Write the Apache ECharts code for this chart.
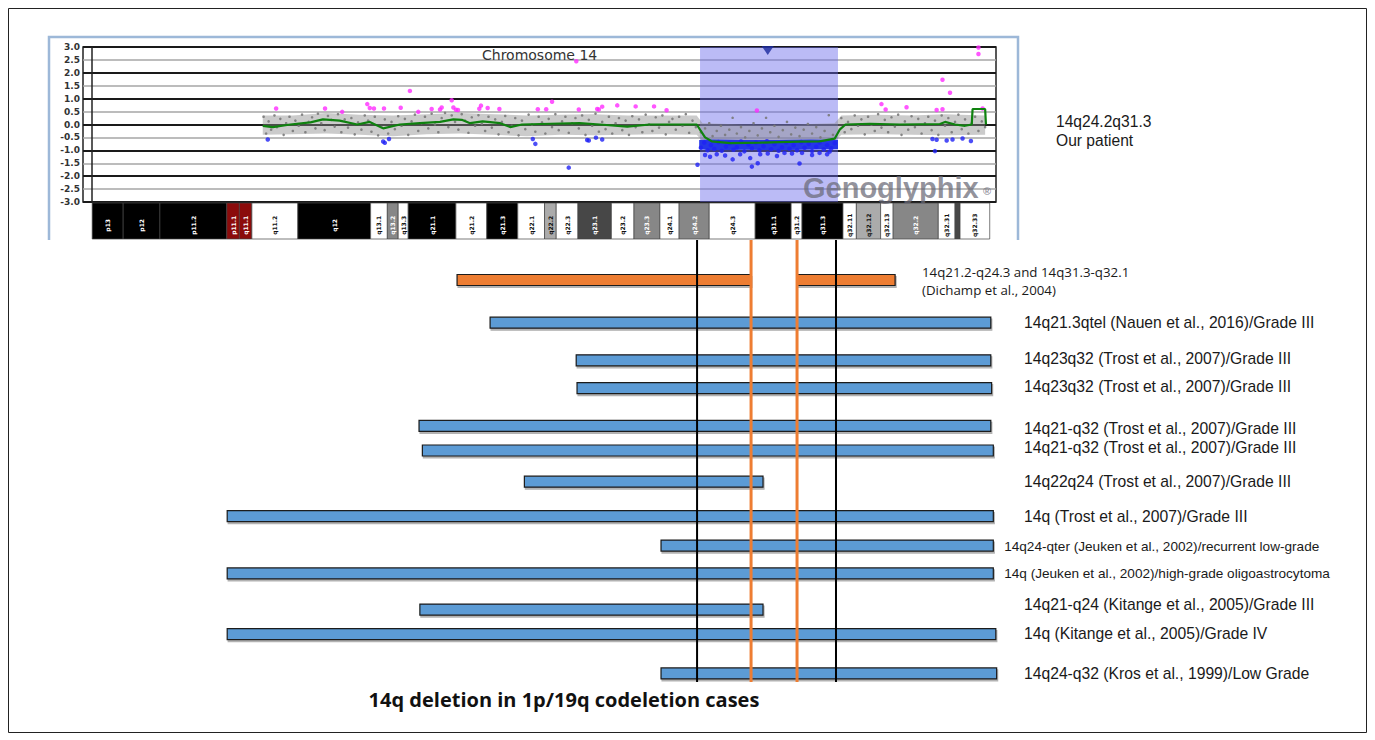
<!DOCTYPE html>
<html><head><meta charset="utf-8">
<script src="https://cdn.jsdelivr.net/npm/echarts@6/dist/echarts.min.js"></script>
<style>html,body{margin:0;padding:0;background:#fff}#c{width:1375px;height:740px}</style>
</head><body><div id="c"></div>
<script>
// ---------- Chromosome 14 ideogram (Mb) ----------
const BAND_NAMES = ['p13','p12','p11.2','p11.1','q11.1','q11.2','q12','q13.1','q13.2','q13.3','q21.1','q21.2','q21.3','q22.1','q22.2','q22.3','q23.1','q23.2','q23.3','q24.1','q24.2','q24.3','q31.1','q31.2','q31.3','q32.11','q32.12','q32.13','q32.2','q32.31','','q32.33'];
const BAND_START = [0,3.7,8.1,16.1,17.6,19.1,24.6,33.3,35.3,36.6,37.8,43.5,47.2,50.9,54.1,55.5,58.1,62.1,64.8,67.9,70.2,73.8,79.3,83.6,84.9,89.8,91.4,94.3,95.8,101.2,103.2,103.8];
const BAND_END   = [3.7,8.1,16.1,17.6,19.1,24.6,33.3,35.3,36.6,37.8,43.5,47.2,50.9,54.1,55.5,58.1,62.1,64.8,67.9,70.2,73.8,79.3,83.6,84.9,89.8,91.4,94.3,95.8,101.2,103.2,103.8,107.35];
const BAND_STAIN = ['k','k','k','r','r','w','k','w','g50','w','k','w','k','w','g25','w','g75','w','g50','w','g50','w','k','w','k','w','g25','w','g50','w','g75','w'];

// ---------- Array CGH profile (position Mb, log2 ratio) ----------
const GREEN_X = [20.4,21.6,23.7,26.1,27.6,29.6,31.7,33.2,34.8,36.8,39.2,41.6,43.2,44.2,45.2,46.7,48.8,50.0,51.4,54.8,58.3,60.7,64.0,66.7,72.3,73.3,74.1,76.3,79.9,82.2,84.6,87.0,88.8,89.4,90.1,93.0,96.6,101.4,102.0,103.2,104.4,105.2,105.3,106.8,106.9];
const GREEN_Y = [-0.05,-0.1,0.0,0.08,0.2,0.15,0.0,0.1,-0.15,0.0,0.05,0.1,0.2,0.18,0.05,0.12,0.05,-0.1,0.0,0.03,0.05,0.0,-0.08,0.0,0.0,-0.5,-0.65,-0.72,-0.7,-0.68,-0.66,-0.65,-0.55,-0.2,0.0,0.03,0.0,0.02,0.1,0.0,-0.05,0.0,0.6,0.6,0.0];

const CLOUD_X  = [20.4,24,28,32,36,40,44,48,52,56,60,64,68,72.3,73.0,78,84,88.8,89.6,94,98,102,106.8];
const CLOUD_UP = [0.35,0.35,0.45,0.38,0.35,0.4,0.45,0.4,0.35,0.38,0.4,0.35,0.35,0.35,0.05,0.0,0.0,0.05,0.35,0.38,0.35,0.4,0.35];
const CLOUD_LO = [-0.4,-0.38,-0.35,-0.4,-0.45,-0.38,-0.35,-0.4,-0.45,-0.4,-0.42,-0.4,-0.38,-0.4,-0.65,-0.65,-0.65,-0.65,-0.4,-0.38,-0.4,-0.42,-0.4];

const BLUEBAND_X  = [72.6,74,78,82,86,89.2];
const BLUEBAND_UP = [-0.6,-0.58,-0.6,-0.6,-0.58,-0.6];
const BLUEBAND_LO = [-0.95,-1.0,-0.98,-1.0,-0.97,-0.95];

const GRAY_PTS = [
[20.5,0.3],[20.8,-0.35],[21.1,0.12],[21.4,-0.2],[21.8,0.35],[22.1,-0.1],[22.5,0.22],[22.9,-0.4],[23.2,0.05],[23.6,0.3],[24.0,-0.25],[24.3,0.15],[24.7,-0.05],[25.1,0.38],[25.5,-0.3],[25.9,0.1],[26.3,0.28],[26.7,-0.15],[27.0,0.42],[27.4,0.05],[27.8,-0.22],[28.2,0.33],[28.6,0.18],[29.0,-0.08],[29.4,0.4],[29.8,-0.3],[30.2,0.2],[30.6,-0.12],[31.0,0.25],[31.4,-0.38],[31.8,0.08],[32.2,-0.2],[32.6,0.35],[33.0,0.15],[33.4,-0.28],[33.8,0.3],[34.2,-0.42],[34.6,-0.1],[35.0,0.2],[35.4,-0.35],[35.8,0.1],[36.2,-0.18],[36.6,0.32],[37.0,-0.05],[37.4,0.22],[37.8,-0.4],[38.2,0.12],[38.6,0.38],[39.0,-0.25],[39.4,0.05],[39.8,0.3],[40.2,-0.15],[40.6,0.42],[41.0,0.0],[41.4,-0.3],[41.8,0.25],[42.2,0.45],[42.6,-0.1],[43.0,0.35],[43.4,0.1],[43.8,-0.2],[44.2,0.4],[44.6,0.15],[45.0,-0.32],[45.4,0.28],[45.8,-0.05],[46.2,0.36],[46.6,0.02],[47.0,-0.25],[47.4,0.3],[47.8,-0.12],[48.2,0.2],[48.6,-0.38],[49.0,0.1],[49.4,0.33],[49.8,-0.3],[50.2,-0.05],[50.6,0.25],[51.0,-0.42],[51.4,0.15],[51.8,-0.18],[52.2,0.38],[52.6,0.0],[53.0,-0.28],[53.4,0.3],[53.8,0.08],[54.2,-0.35],[54.6,0.22],[55.0,-0.1],[55.4,0.4],[55.8,-0.22],[56.2,0.12],[56.6,0.3],[57.0,-0.32],[57.4,0.05],[57.8,0.25],[58.2,-0.15],[58.6,0.35],[59.0,-0.4],[59.4,0.18],[59.8,-0.05],[60.2,0.42],[60.6,-0.28],[61.0,0.1],[61.4,-0.18],[61.8,0.3],[62.2,-0.35],[62.6,0.05],[63.0,0.25],[63.4,-0.22],[63.8,0.15],[64.2,-0.4],[64.6,0.32],[65.0,-0.1],[65.4,0.2],[65.8,-0.3],[66.2,0.38],[66.6,0.0],[67.0,-0.25],[67.4,0.28],[67.8,-0.12],[68.2,0.35],[68.6,-0.38],[69.0,0.1],[69.4,0.22],[69.8,-0.2],[70.2,0.3],[70.6,-0.05],[71.0,0.4],[71.4,-0.32],[71.8,0.15],[72.2,-0.1],
[72.8,-0.3],[73.3,-0.15],[73.8,0.05],[74.2,-0.45],[74.7,-0.25],[75.2,-0.05],[75.7,-0.4],[76.2,-0.2],[76.6,0.26],[77.1,-0.35],[77.6,-0.1],[78.1,-0.5],[78.6,-0.25],[79.1,0.05],[79.6,-0.42],[80.1,-0.15],[80.6,0.26],[81.1,-0.3],[81.6,-0.05],[82.1,-0.48],[82.6,-0.22],[83.1,0.1],[83.6,-0.38],[84.1,-0.12],[84.6,-0.45],[85.1,-0.2],[85.6,0.02],[86.1,-0.35],[86.6,-0.1],[87.1,-0.5],[87.6,-0.25],[88.1,0.36],[88.6,-0.4],
[89.6,0.25],[90.0,-0.3],[90.4,0.1],[90.8,-0.18],[91.2,0.35],[91.6,-0.05],[92.0,0.2],[92.4,-0.38],[92.8,0.3],[93.2,0.0],[93.6,-0.25],[94.0,0.4],[94.4,-0.12],[94.8,0.18],[95.2,-0.3],[95.6,0.28],[96.0,-0.08],[96.4,0.38],[96.8,-0.4],[97.2,0.12],[97.6,-0.2],[98.0,0.32],[98.4,-0.1],[98.8,0.22],[99.2,-0.35],[99.6,0.05],[100.0,0.3],[100.4,-0.22],[100.8,0.15],[101.2,-0.4],[101.6,0.35],[102.0,-0.05],[102.4,0.25],[102.8,-0.3],[103.2,0.1],[103.6,0.38],[104.0,-0.18],[104.4,0.2],[104.8,-0.35],[105.2,0.05],[105.6,0.3],[106.0,-0.25],[106.4,0.12],[106.8,-0.1]];

const PINK_PTS = [[22.0,0.62],[27.85,0.62],[29.9,0.49],[32.9,0.79],[33.2,0.64],[33.7,0.62],[34.9,0.62],[36.9,0.65],[38.0,1.3],[39.0,0.49],[40.6,0.6],[41.6,0.58],[41.8,0.66],[43.0,0.94],[43.2,0.66],[43.5,0.57],[43.75,0.56],[46.3,0.61],[46.5,0.73],[47.3,0.64],[48.7,0.6],[53.3,0.59],[54.3,0.59],[55.0,0.88],[57.9,2.45],[58.2,0.58],[60.4,0.6],[60.6,0.58],[61.0,0.69],[62.8,0.74],[65.0,0.7],[67.2,0.7],[68.7,0.55],[79.5,0.54],[94.4,0.79],[94.9,0.58],[97.4,0.67],[101.0,0.56],[101.7,0.59],[101.7,1.73],[102.6,1.23],[106.0,2.98],[106.0,2.73],[106.5,0.62]];

const BLUE_PTS = [[21.0,-0.58],[34.8,-0.66],[35.0,-0.71],[35.5,-0.56],[52.7,-0.56],[53.0,-0.75],[57.0,-1.67],[59.2,-0.6],[59.4,-0.62],[60.25,-0.51],[61.0,-0.58],[100.5,-0.56],[100.8,-1.03],[101.0,-0.59],[102.2,-0.62],[102.9,-0.58],[104.1,-0.54],[105.1,-0.64],
[72.4,-1.56],[73.3,-1.18],[73.9,-1.25],[74.7,-1.15],[75.7,-1.2],[76.6,-1.35],[77.5,-1.15],[78.7,-1.3],[78.9,-1.63],[79.6,-1.5],[79.9,-1.15],[80.8,-1.12],[81.9,-1.22],[82.8,-1.1],[83.7,-1.12],[84.6,-1.51],[84.9,-1.1],[86.1,-1.18],[87.0,-1.1],[87.9,-1.15],[88.2,-1.05],
[72.8,-0.9],[73.2,-0.7],[73.6,-1.0],[74.0,-0.8],[74.4,-0.95],[74.9,-0.68],[75.3,-1.02],[75.8,-0.85],[76.2,-0.72],[76.7,-0.98],[77.1,-0.88],[77.6,-0.66],[78.0,-1.04],[78.5,-0.78],[78.9,-0.92],[79.4,-0.7],[79.8,-1.0],[80.3,-0.84],[80.7,-0.65],[81.2,-0.96],[81.6,-0.76],[82.1,-1.02],[82.5,-0.88],[83.0,-0.7],[83.4,-0.94],[83.9,-0.8],[84.3,-1.0],[84.8,-0.68],[85.2,-0.9],[85.7,-0.75],[86.1,-1.03],[86.6,-0.86],[87.0,-0.7],[87.5,-0.97],[87.9,-0.8],[88.4,-0.92],[88.8,-0.72]];

const HIGHLIGHT = [72.7, 89.2];   // patient deletion call region
const MARKER = [[80.8, 2.86]];

// ---------- Published 14q deletions (Mb) ----------
const LABELS = [
 '14q21.2-q24.3 and 14q31.3-q32.1\n(Dichamp et al., 2004)',
 '14q21.3qtel (Nauen et al., 2016)/Grade III',
 '14q23q32 (Trost et al., 2007)/Grade III',
 '14q23q32 (Trost et al., 2007)/Grade III',
 '14q21-q32 (Trost et al., 2007)/Grade III',
 '14q21-q32 (Trost et al., 2007)/Grade III',
 '14q22q24 (Trost et al., 2007)/Grade III',
 '14q (Trost et al., 2007)/Grade III',
 '14q24-qter (Jeuken et al., 2002)/recurrent low-grade',
 '14q (Jeuken et al., 2002)/high-grade oligoastrocytoma',
 '14q21-q24 (Kitange et al., 2005)/Grade III',
 '14q (Kitange et al., 2005)/Grade IV',
 '14q24-q32 (Kros et al., 1999)/Low Grade'];
const BAR_ROW   = [0,0,1,2,3,4,5,6,7,8,9,10,11,12];
const BAR_START = [43.65,84.3,47.6,57.9,58.0,39.1,39.5,51.7,16.15,68.05,16.15,39.2,16.15,68.05];
const BAR_END   = [78.8,96.05,107.5,107.5,107.6,107.5,107.8,80.25,107.8,107.8,107.8,80.25,108.1,108.2];
const BAR_KIND  = ['o','o','b','b','b','b','b','b','b','b','b','b','b','b'];
const VLINE_X    = [72.36,78.82,84.32,88.98];
const VLINE_KIND = ['k','o','o','k'];

// ---------- layout (not data) ----------
const ROW_SLOT = [0,1.3,2.45,3.3,4.45,5.2,6.15,7.2,8.1,8.95,10.05,10.8,12.0];
const LABEL_X  = [99.27,111.47,111.47,111.47,111.47,111.47,111.47,111.47,109.1,109.1,111.47,111.47,111.47];
const LABEL_DY = [0.02,0,-0.05,-0.05,0.09,-0.09,0,0,0.02,0,-0.15,-0.03,0];
const LABEL_FS = [13.3,15.7,15.7,15.7,15.7,15.7,15.7,15.7,13.6,13.6,15.7,15.7,15.7];
const STAIN_COLOR = {k:'#000000', r:'#8b0b0b', w:'#ffffff', g25:'#ababab', g50:'#878787', g75:'#474747'};
const DARK = {k:1, r:1, g50:1, g75:1};
const XMIN = -1.1, XMAX_TOP = 108.1, XMAX_BOT = 108.6;

const chart = echarts.init(document.getElementById('c'), null, {renderer:'svg'});

function polyFrom(api, xs, up, lo){
  const pts = [];
  for (let i=0;i<xs.length;i++) pts.push(api.coord([xs[i], up[i]]));
  for (let i=xs.length-1;i>=0;i--) pts.push(api.coord([xs[i], lo[i]]));
  return pts;
}

const option = {
  animation:false,
  backgroundColor:'#ffffff',
  title:{text:'Chromosome 14', left:482, top:48, padding:0,
    textStyle:{fontSize:14, fontWeight:'normal', color:'#333', fontFamily:'DejaVu Sans'}},
  grid:[
    {left:83, top:47, width:913, height:155, show:true, borderColor:'#222', borderWidth:1.5, backgroundColor:'transparent'},
    {left:83, top:203, width:913, height:36},
    {left:83, top:240, width:917, height:442}
  ],
  xAxis:[
    {gridIndex:0, type:'value', min:XMIN, max:XMAX_TOP, show:false},
    {gridIndex:1, type:'value', min:XMIN, max:XMAX_TOP, show:false},
    {gridIndex:2, type:'value', min:XMIN, max:XMAX_BOT, show:false}
  ],
  yAxis:[
    {gridIndex:0, type:'value', min:-3, max:3, interval:0.5,
     axisLine:{show:true, lineStyle:{color:'#222', width:1.5}}, axisTick:{show:false},
     axisLabel:{formatter:v=>v.toFixed(1), fontSize:9, fontWeight:'bold', color:'#333', fontFamily:'DejaVu Sans', margin:3},
     splitLine:{show:true, lineStyle:{color:'#a6a6a6', width:1.5}}},
    {gridIndex:0, type:'value', min:-3, max:3, interval:1, position:'left',
     axisLine:{show:false}, axisTick:{show:false}, axisLabel:{show:false},
     splitLine:{show:true, lineStyle:{color:'#1a1a1a', width:2}}},
    {gridIndex:1, type:'value', min:0, max:1, show:false},
    {gridIndex:2, type:'value', min:-1.22, max:12.26, inverse:true, show:false}
  ],
  series:[
    // highlight of patient's deletion
    {type:'custom', xAxisIndex:0, yAxisIndex:0, z:1, silent:true,
     data:[[HIGHLIGHT[0], HIGHLIGHT[1]]], encode:{x:[0,1]},
     renderItem:(p,api)=>{
       const a=api.coord([api.value(0),3]), b=api.coord([api.value(1),-3]);
       return {type:'rect', shape:{x:a[0], y:a[1], width:b[0]-a[0], height:b[1]-a[1]}, style:{fill:'rgba(105,105,236,0.45)'}};
     }},
    // gray probe cloud envelope
    {type:'custom', xAxisIndex:0, yAxisIndex:0, z:2, silent:true,
     data:[[CLOUD_X[0],0]],
     renderItem:(p,api)=>({type:'polygon', shape:{points:polyFrom(api, CLOUD_X, CLOUD_UP, CLOUD_LO)}, style:{fill:'rgba(140,140,140,0.45)'}})},
    {type:'scatter', xAxisIndex:0, yAxisIndex:0, z:3, silent:true, symbolSize:2.6,
     itemStyle:{color:'#7a7a7a', opacity:0.9}, data:GRAY_PTS},
    // dense loss band
    {type:'custom', xAxisIndex:0, yAxisIndex:0, z:4, silent:true,
     data:[[BLUEBAND_X[0],-0.8]],
     renderItem:(p,api)=>({type:'polygon', shape:{points:polyFrom(api, BLUEBAND_X, BLUEBAND_UP, BLUEBAND_LO)}, style:{fill:'#2536e8'}})},
    {type:'scatter', xAxisIndex:0, yAxisIndex:0, z:5, silent:true, symbolSize:4.5,
     itemStyle:{color:'#1f22f5'}, data:BLUE_PTS},
    {type:'scatter', xAxisIndex:0, yAxisIndex:0, z:5, silent:true, symbolSize:4.5,
     itemStyle:{color:'#ff2cff'}, data:PINK_PTS},
    {type:'line', xAxisIndex:0, yAxisIndex:0, z:6, silent:true, showSymbol:false,
     lineStyle:{color:'#0f820f', width:2.2}, data:GREEN_X.map((x,i)=>[x,GREEN_Y[i]])},
    {type:'scatter', xAxisIndex:0, yAxisIndex:0, z:7, silent:true, symbol:'triangle', symbolRotate:180,
     symbolSize:[12,9], itemStyle:{color:'#1b2a9e'}, data:MARKER},
    // ideogram
    {type:'custom', xAxisIndex:1, yAxisIndex:2, silent:true,
     data:BAND_START.map((s,i)=>[s, BAND_END[i]]), encode:{x:[0,1]},
     renderItem:(p,api)=>{
       const i=p.dataIndex, a=api.coord([api.value(0),1]), b=api.coord([api.value(1),0]);
       const st=BAND_STAIN[i], w=b[0]-a[0], h=b[1]-a[1];
       const ch=[{type:'rect', shape:{x:a[0], y:a[1], width:w, height:h}, style:{fill:STAIN_COLOR[st], stroke:'#444', lineWidth:0.7}}];
       if (BAND_NAMES[i]) ch.push({type:'text', x:(a[0]+b[0])/2, y:a[1]+h*0.62, rotation:Math.PI/2,
         style:{text:BAND_NAMES[i], fill:DARK[st]?'#ffffff':'#111111', fontSize:6, fontWeight:'bold', fontFamily:'DejaVu Sans', align:'center', verticalAlign:'middle'}});
       return {type:'group', children:ch};
     }},
    // published deletion bars
    {type:'custom', xAxisIndex:2, yAxisIndex:3, z:2, silent:true,
     data:BAR_START.map((s,i)=>[s, BAR_END[i], ROW_SLOT[BAR_ROW[i]]]), encode:{x:[0,1], y:2},
     renderItem:(p,api)=>{
       const a=api.coord([api.value(0), api.value(2)]), b=api.coord([api.value(1), api.value(2)]);
       const h=11, o=BAR_KIND[p.dataIndex]==='o';
       return {type:'rect', shape:{x:a[0], y:a[1]-h/2, width:b[0]-a[0], height:h},
         style:{fill:o?'#ed7d31':'#5b9bd5', stroke:'#1a1a1a', lineWidth:1.2, shadowColor:'rgba(0,0,0,0.3)', shadowOffsetX:1, shadowOffsetY:2, shadowBlur:1}};
     }},
    // vertical boundary lines
    {type:'custom', xAxisIndex:2, yAxisIndex:3, z:4, silent:true,
     data:VLINE_X.map(x=>[x]), encode:{x:0},
     renderItem:(p,api)=>{
       const a=api.coord([api.value(0), -1.22]), b=api.coord([api.value(0), 12.26]);
       const o=VLINE_KIND[p.dataIndex]==='o';
       return {type:'line', shape:{x1:a[0], y1:a[1], x2:b[0], y2:b[1]}, style:{stroke:o?'#ee7d32':'#000', lineWidth:o?3:2}};
     }},
    // row labels
    {type:'custom', xAxisIndex:2, yAxisIndex:3, z:5, silent:true,
     data:LABELS.map((t,i)=>[LABEL_X[i], ROW_SLOT[i]+LABEL_DY[i]]), encode:{x:0, y:1},
     renderItem:(p,api)=>{
       const i=p.dataIndex, c=api.coord([api.value(0), api.value(1)]);
       return {type:'text', x:c[0], y:c[1], style:{text:LABELS[i], fill:'#1a1a1a', fontSize:LABEL_FS[i],
         fontFamily: i===0 ? 'Open Sans' : 'Liberation Sans', lineHeight: i===0 ? 18 : undefined, align:'left', verticalAlign:'middle'}};
     }}
  ],
  graphic:[
    {type:'rect', shape:{x:8.5, y:8.5, width:1358, height:724}, style:{fill:'none', stroke:'#222', lineWidth:1}, z:100},
    {type:'polyline', shape:{points:[[49,240],[49,37],[1018,37],[1018,240]]}, style:{fill:'none', stroke:'#9db8d8', lineWidth:2.5}, z:100},
    {type:'text', x:803, y:188, z:100, style:{text:'Genoglyphix', font:'bold 29px "Liberation Sans"', fill:'rgba(105,105,118,0.72)', verticalAlign:'middle'}},
    {type:'text', x:983, y:191, z:100, style:{text:'®', font:'bold 11px "Liberation Sans"', fill:'rgba(105,105,118,0.72)', verticalAlign:'middle'}},
    {type:'text', x:1056, y:131, z:100, style:{text:'14q24.2q31.3\nOur patient', font:'15.6px "Liberation Sans"', lineHeight:19, fill:'#1a1a1a', verticalAlign:'middle'}},
    {type:'text', x:564, y:699, z:100, style:{text:'14q deletion in 1p/19q codeletion cases', font:'bold 20px "Open Sans"', fill:'#111', align:'center', verticalAlign:'middle'}}
  ]
};
chart.setOption(option);
</script></body></html>
